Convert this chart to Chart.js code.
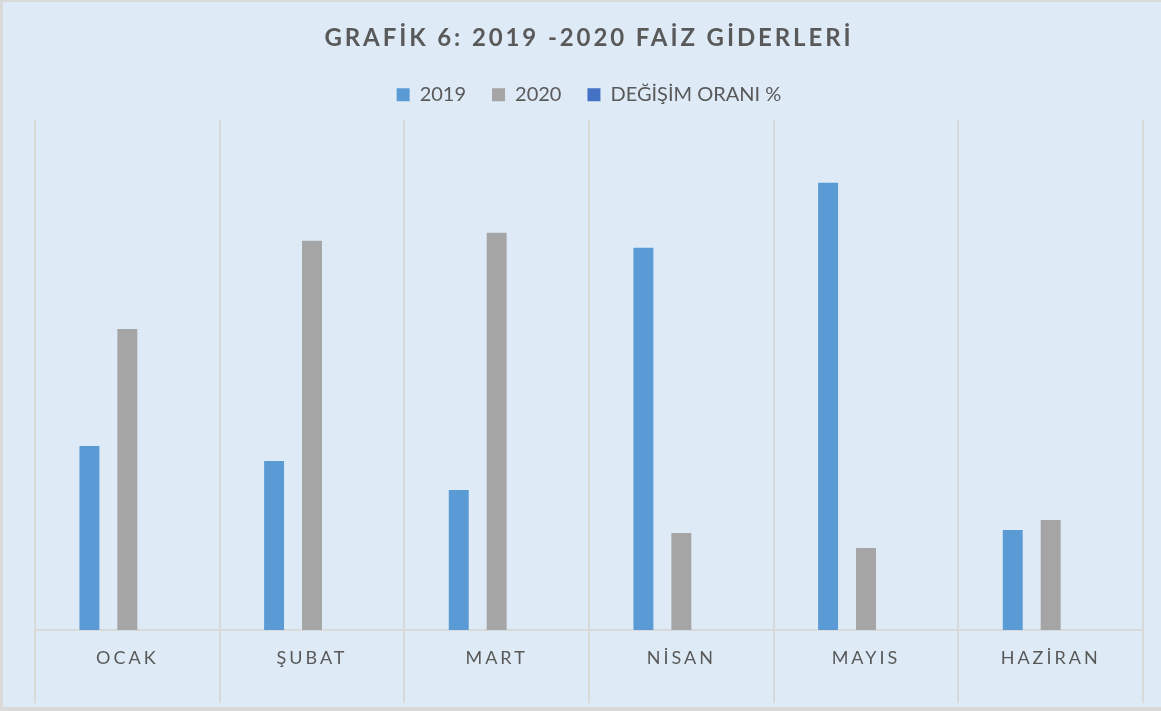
<!DOCTYPE html>
<html>
<head>
<meta charset="utf-8">
<script src="https://cdn.jsdelivr.net/npm/chart.js@4/dist/chart.umd.min.js"></script>
<style>
  html, body { margin: 0; padding: 0; background: #ffffff; }
  #wrap { position: relative; width: 1161px; height: 711px; }
  canvas { display: block; }
</style>
</head>
<body>
<div id="wrap"><canvas id="c" width="1161" height="711"></canvas></div>
<script>
// ---- data ----
const categories = ['OCAK', 'ŞUBAT', 'MART', 'NİSAN', 'MAYIS', 'HAZİRAN'];
const values2019 = [184, 169, 140, 382, 447, 100];
const values2020 = [301, 389, 397, 97, 82, 110];
const changeRate = [0, 0, 0, 0, 0, 0];
const seriesNames = ['2019', '2020', 'DEĞİŞİM ORANI %'];
const chartTitle = 'GRAFİK 6: 2019 -2020 FAİZ GİDERLERİ';
const yMax = 510;

const TEXT = '#595959';
const GRID = '#d9d9d9';
const BG = '#deebf7';

const bgPlugin = {
  id: 'bg',
  beforeDraw(chart) {
    const ctx = chart.ctx;
    ctx.save();
    ctx.fillStyle = GRID;
    ctx.fillRect(0, 0, chart.width, chart.height);
    ctx.fillStyle = BG;
    ctx.fillRect(3, 2, chart.width - 3, chart.height - 6);
    ctx.restore();
  }
};

const tweakPlugin = {
  id: 'tweak',
  beforeLayout(chart) {
    const lg = chart.legend;
    if (lg && !lg._wrapped) {
      const of = lg.fit;
      lg.fit = function () { of.apply(this, arguments); this.height = 61; };
      lg._wrapped = true;
    }
    const tb = chart.titleBlock;
    if (tb && !tb._wrapped) {
      const od = tb.draw;
      tb.draw = function () {
        const ctx = this.ctx;
        ctx.save(); ctx.letterSpacing = '2.9px';
        od.apply(this, arguments);
        ctx.restore();
      };
      tb._wrapped = true;
    }
  },
  beforeDraw(chart) {
    const sx = chart.scales.x;
    if (sx && !sx._wrapped) {
      const od = sx.drawLabels;
      sx.drawLabels = function () {
        const ctx = this.ctx;
        ctx.save(); ctx.letterSpacing = '3px';
        od.apply(this, arguments);
        ctx.restore();
      };
      sx._wrapped = true;
    }
  }
};

new Chart(document.getElementById('c'), {
  type: 'bar',
  data: {
    labels: categories,
    datasets: [
      { label: seriesNames[0], data: values2019, backgroundColor: '#5b9bd5' },
      { label: seriesNames[1], data: values2020, backgroundColor: '#a5a5a5' },
      { label: seriesNames[2], data: changeRate, backgroundColor: '#4472c4' }
    ]
  },
  options: {
    responsive: false,
    animation: false,
    datasets: { bar: { categoryPercentage: 0.616, barPercentage: 0.526, borderWidth: 0 } },
    layout: { padding: { left: 35, right: 18, top: 0, bottom: 0 } },
    plugins: {
      tooltip: { enabled: false },
      title: {
        display: true,
        text: chartTitle,
        color: TEXT,
        font: { family: 'Lato', size: 24, weight: 'bold', lineHeight: 1.2 },
        padding: { top: 24, bottom: 6 }
      },
      legend: {
        display: true,
        position: 'top',
        labels: {
          color: TEXT,
          font: { family: 'Lato', size: 20 },
          boxWidth: 13,
          boxHeight: 13,
          padding: 26
        }
      }
    },
    scales: {
      x: {
        offset: true,
        grid: { display: true, offset: true, color: GRID, lineWidth: 2, drawTicks: true, tickLength: 73, tickColor: GRID, tickWidth: 2 },
        border: { display: true, color: GRID, width: 2 },
        ticks: { color: TEXT, font: { family: 'Lato', size: 18, lineHeight: 1.2 }, padding: -56, maxRotation: 0 },
        afterFit(scale) { scale.height = 81; }
      },
      y: {
        display: false,
        min: 0,
        max: yMax
      }
    }
  },
  plugins: [bgPlugin, tweakPlugin]
});
</script>
</body>
</html>
